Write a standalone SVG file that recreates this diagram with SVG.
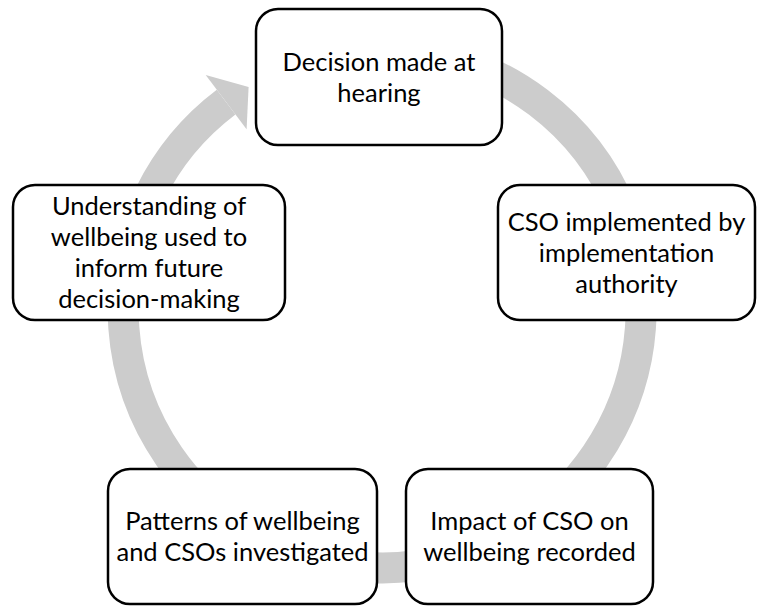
<svg xmlns="http://www.w3.org/2000/svg" width="757" height="606" viewBox="0 0 757 606">
<style>
.node rect{fill:#ffffff;stroke:#000000;stroke-width:2.5}
.node text{font-family:Lato,"Open Sans","Liberation Sans",sans-serif;font-size:25.5px;fill:#000000;text-anchor:middle}
.ring{fill:none;stroke:#cccccc;stroke-width:31}
.head{fill:#cccccc}
</style>
<rect width="757" height="606" fill="#ffffff"/>
<g id="connectors">
<path class="ring" d="M 293.4 65.6 A 259 259 0 1 1 226.1 102.2"/>
<polygon class="head" points="205.7,75.0 248.6,87.0 246.6,129.3"/>
</g>
<g id="node1" class="node">
<rect x="256" y="9" width="246" height="136" rx="22"/>
<text x="379" y="70.5">Decision made at</text>
<text x="379" y="101.5">hearing</text>
</g>
<g id="node2" class="node">
<rect x="498" y="185" width="257" height="135" rx="22"/>
<text x="626.5" y="230.5">CSO implemented by</text>
<text x="626.5" y="261.5">implementation</text>
<text x="626.5" y="292.5">authority</text>
</g>
<g id="node3" class="node">
<rect x="406" y="469" width="247" height="135" rx="22"/>
<text x="529.5" y="530">Impact of CSO on</text>
<text x="529.5" y="561">wellbeing recorded</text>
</g>
<g id="node4" class="node">
<rect x="108" y="469" width="269" height="135" rx="22"/>
<text x="242.5" y="530">Patterns of wellbeing</text>
<text x="242.5" y="561">and CSOs investigated</text>
</g>
<g id="node5" class="node">
<rect x="13" y="185" width="272" height="135" rx="22"/>
<text x="149" y="215">Understanding of</text>
<text x="149" y="246">wellbeing used to</text>
<text x="149" y="277">inform future</text>
<text x="149" y="308">decision-making</text>
</g>
</svg>
